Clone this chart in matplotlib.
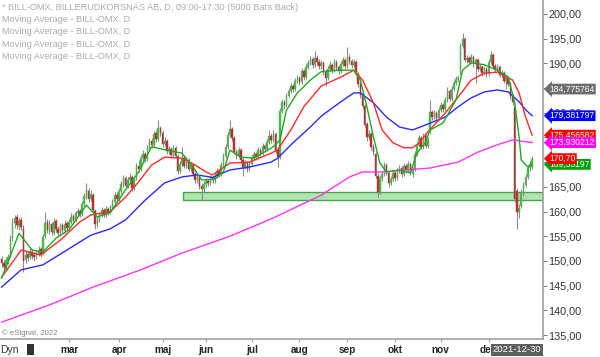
import numpy as np
import pandas as pd
import matplotlib
matplotlib.use("Agg")
from matplotlib import pyplot as plt
from matplotlib import transforms
from matplotlib.patches import Rectangle

plt.rcParams['font.family'] = ['Liberation Sans', 'DejaVu Sans']

# trading days shown (Stockholm exchange, holidays removed)
holidays = ['2021-04-02', '2021-04-05', '2021-05-13', '2021-06-25', '2021-12-24']
month_names = ['jan', 'feb', 'mar', 'apr', 'maj', 'jun', 'jul', 'aug', 'sep', 'okt', 'nov', 'dec']

opens = [
    150.4, 149.6, 148.6, 150.0, 151.0, 154.6, 157.6, 158.8, 157.0, 158.2,
    156.4, 150.2, 151.4, 150.8, 151.8, 151.2, 150.8, 151.4, 152.4, 151.6,
    155.0, 157.8, 156.0, 157.4, 155.6, 158.0, 156.4, 155.8, 157.2, 156.0,
    157.6, 156.6, 157.8, 159.0, 158.2, 159.6, 160.2, 159.4, 161.6, 163.0,
    164.2, 162.6, 163.4, 160.2, 157.4, 158.4, 159.2, 160.4, 159.2, 160.6,
    159.8, 160.8, 162.0, 163.4, 162.6, 164.2, 165.6, 166.8, 165.2, 166.4,
    167.0, 164.8, 166.8, 169.2, 168.6, 170.8, 171.6, 170.6, 172.8, 174.2,
    173.4, 175.8, 174.6, 176.8, 175.8, 173.6, 174.2, 172.2, 172.6, 171.4,
    172.8, 171.2, 168.2, 169.6, 170.8, 169.2, 170.4, 168.6, 169.4, 167.6,
    166.4, 166.9, 165.2, 164.6, 165.6, 166.2, 165.8, 166.8, 166.3, 167.2,
    168.2, 167.6, 169.4, 171.2, 173.0, 175.4, 176.6, 174.8, 172.0, 171.2,
    172.4, 170.4, 169.0, 169.8, 168.6, 169.6, 170.8, 171.6, 171.0, 172.4,
    171.8, 173.2, 172.6, 174.0, 175.2, 174.4, 175.6, 172.4, 171.0, 180.4,
    182.2, 181.6, 183.4, 184.4, 185.4, 184.8, 186.4, 187.0, 186.2, 188.4,
    187.2, 189.2, 190.0, 190.8, 189.6, 191.0, 190.2, 189.4, 190.0, 188.2,
    187.0, 188.8, 189.6, 188.6, 190.2, 189.2, 188.4, 189.8, 190.6, 189.4,
    191.2, 190.4, 189.6, 190.2, 187.8, 185.8, 183.6, 181.4, 177.8, 175.0,
    175.6, 173.0, 171.6, 167.2, 164.0, 166.8, 167.6, 169.4, 167.8, 165.8,
    166.6, 167.8, 166.8, 168.2, 168.8, 167.6, 169.2, 168.4, 169.6, 167.6,
    168.6, 171.6, 173.4, 174.8, 173.0, 175.2, 173.2, 176.0, 180.2, 179.2,
    180.0, 179.0, 180.6, 181.6, 180.8, 182.6, 184.4, 182.8, 184.8, 186.0,
    186.8, 188.0, 193.4, 195.0, 190.6, 191.0, 190.2, 191.2, 189.8, 190.6,
    188.8, 189.2, 188.0, 188.8, 187.8, 190.2, 191.6, 189.4, 188.6, 189.2,
    187.6, 188.0, 186.4, 187.0, 185.8, 183.4, 181.2, 164.2, 159.8, 161.2,
    163.8, 165.4, 167.0, 168.8, 169.0]
highs = [
    151.0, 150.2, 150.8, 151.4, 155.2, 158.6, 159.2, 159.4, 158.6, 158.8,
    157.2, 152.0, 152.0, 152.6, 152.4, 151.8, 152.2, 153.0, 152.8, 155.4,
    160.0, 158.4, 158.2, 157.8, 158.6, 158.4, 157.0, 157.6, 157.6, 158.2,
    158.0, 158.4, 159.6, 159.4, 160.2, 160.8, 160.6, 162.2, 163.8, 165.8,
    164.8, 164.4, 163.8, 160.6, 159.0, 159.8, 161.0, 160.8, 161.2, 161.0,
    161.4, 162.6, 164.0, 164.0, 164.8, 166.2, 167.4, 167.2, 167.0, 167.8,
    167.4, 167.2, 169.8, 170.4, 171.4, 172.4, 172.0, 173.4, 174.8, 174.8,
    176.2, 176.4, 178.5, 177.4, 176.4, 175.0, 174.6, 173.2, 173.0, 173.4,
    173.2, 171.6, 170.2, 173.0, 171.4, 171.0, 170.8, 170.0, 169.8, 168.0,
    167.6, 167.2, 165.8, 166.2, 166.8, 166.6, 167.4, 167.2, 167.8, 168.8,
    168.6, 170.0, 171.8, 173.6, 176.0, 178.5, 177.2, 175.2, 172.6, 173.0,
    172.8, 170.8, 170.4, 170.2, 170.2, 171.4, 172.2, 172.0, 173.0, 172.8,
    173.8, 173.6, 174.6, 176.4, 175.8, 176.4, 176.0, 172.8, 181.0, 182.8,
    182.6, 184.0, 185.0, 186.0, 185.8, 187.0, 187.6, 187.4, 189.0, 188.8,
    189.8, 190.6, 191.4, 191.2, 192.4, 191.6, 190.8, 190.6, 190.4, 188.8,
    189.4, 190.4, 190.0, 190.8, 190.6, 189.6, 190.4, 191.2, 191.0, 193.3,
    191.8, 190.8, 190.8, 190.6, 188.2, 186.2, 184.6, 181.8, 178.2, 176.4,
    176.0, 173.6, 172.0, 167.8, 167.2, 168.2, 170.0, 169.8, 168.2, 167.2,
    168.4, 168.2, 168.8, 169.4, 169.2, 169.8, 169.6, 170.2, 170.0, 169.0,
    172.2, 174.0, 175.4, 175.2, 175.8, 175.6, 175.0, 182.6, 180.6, 180.6,
    180.4, 181.2, 182.2, 182.0, 183.2, 185.2, 184.8, 185.4, 186.6, 187.4,
    187.6, 194.0, 196.1, 195.4, 191.6, 191.4, 191.8, 191.6, 191.0, 191.0,
    189.8, 189.6, 189.4, 189.2, 190.8, 192.4, 192.0, 189.8, 189.8, 189.6,
    188.6, 188.4, 187.6, 187.4, 186.2, 183.8, 181.8, 164.8, 161.6, 164.6,
    166.0, 167.6, 169.4, 170.2, 171.2]
lows = [
    148.8, 147.8, 148.2, 149.4, 150.6, 154.0, 156.6, 156.4, 156.2, 156.2,
    147.8, 149.6, 150.0, 150.4, 150.4, 150.0, 150.4, 151.0, 150.8, 151.2,
    154.6, 155.6, 155.4, 155.2, 155.2, 155.8, 155.0, 155.4, 155.6, 155.6,
    156.0, 156.2, 157.4, 157.6, 157.8, 159.0, 158.8, 159.0, 161.0, 162.6,
    162.0, 162.2, 159.8, 156.4, 156.8, 157.8, 158.8, 158.8, 158.8, 159.2,
    159.4, 160.4, 161.6, 162.0, 162.2, 163.8, 165.0, 164.6, 164.8, 166.0,
    164.2, 164.4, 166.4, 168.0, 168.2, 170.2, 170.0, 170.2, 172.4, 172.8,
    173.0, 174.0, 174.2, 175.2, 173.0, 173.2, 171.6, 171.6, 170.8, 171.0,
    170.8, 167.6, 167.8, 169.2, 168.8, 168.8, 168.2, 168.2, 167.2, 165.8,
    165.8, 164.6, 162.4, 164.0, 165.0, 165.2, 165.4, 165.8, 165.8, 166.8,
    167.0, 167.2, 169.0, 170.8, 172.6, 175.0, 174.2, 171.6, 170.6, 170.8,
    169.8, 167.2, 168.6, 168.0, 168.2, 169.2, 170.4, 170.4, 170.6, 171.2,
    171.4, 172.0, 172.2, 173.6, 173.8, 174.0, 171.8, 169.0, 170.6, 180.0,
    180.8, 181.2, 183.0, 184.0, 184.2, 184.4, 186.0, 185.6, 185.8, 186.6,
    186.8, 188.8, 189.6, 189.0, 189.2, 189.6, 188.8, 188.8, 187.6, 185.4,
    186.6, 188.4, 188.0, 188.2, 188.6, 187.8, 188.0, 189.4, 188.8, 189.0,
    189.8, 189.0, 189.2, 187.4, 185.2, 183.0, 180.8, 177.0, 174.2, 174.6,
    172.4, 171.4, 166.8, 163.0, 163.6, 166.2, 167.2, 167.4, 165.0, 165.4,
    166.2, 166.2, 166.4, 167.8, 167.0, 167.2, 167.8, 168.0, 167.4, 167.0,
    168.2, 171.2, 173.0, 172.6, 172.6, 172.8, 172.8, 175.6, 178.6, 178.8,
    178.4, 178.6, 180.2, 180.2, 180.4, 182.2, 182.4, 182.4, 184.4, 185.6,
    186.2, 187.6, 193.0, 190.2, 190.0, 189.6, 189.8, 189.2, 186.0, 188.4,
    188.4, 187.4, 187.6, 187.2, 187.4, 189.8, 189.0, 188.2, 188.2, 187.2,
    187.2, 186.0, 184.8, 185.4, 182.8, 181.6, 162.0, 156.4, 158.6, 160.8,
    163.2, 165.0, 166.6, 168.2, 168.6]
closes = [
    149.5, 148.8, 150.2, 150.8, 154.5, 157.8, 158.6, 157.2, 158.0, 156.8,
    150.0, 151.2, 150.6, 151.8, 151.0, 150.8, 151.6, 152.3, 151.5, 154.8,
    157.6, 156.2, 157.4, 155.8, 157.9, 156.4, 155.7, 157.0, 156.2, 157.5,
    156.6, 157.8, 158.9, 158.2, 159.6, 160.1, 159.4, 161.6, 163.2, 164.4,
    162.6, 163.6, 160.3, 157.4, 158.4, 159.2, 160.4, 159.3, 160.6, 159.7,
    160.9, 162.0, 163.4, 162.6, 164.2, 165.6, 166.8, 165.2, 166.4, 167.0,
    164.8, 166.6, 169.2, 168.6, 170.8, 171.6, 170.6, 172.8, 174.2, 173.4,
    175.6, 174.6, 176.8, 175.8, 173.6, 174.2, 172.2, 172.6, 171.4, 172.8,
    171.2, 168.2, 169.6, 170.8, 169.2, 170.4, 168.6, 169.4, 167.6, 166.4,
    166.9, 165.2, 164.6, 165.6, 166.2, 165.8, 166.8, 166.3, 167.2, 168.2,
    167.6, 169.4, 171.2, 173.0, 175.4, 176.6, 174.8, 172.0, 171.2, 172.4,
    170.4, 169.0, 169.8, 168.6, 169.6, 170.8, 171.6, 171.0, 172.4, 171.8,
    173.2, 172.6, 174.0, 175.2, 174.4, 175.6, 172.2, 171.0, 180.4, 182.2,
    181.6, 183.4, 184.4, 185.4, 184.8, 186.4, 187.0, 186.2, 188.4, 187.2,
    189.2, 190.0, 190.8, 189.6, 191.0, 190.2, 189.4, 190.0, 188.2, 187.0,
    188.8, 189.6, 188.6, 190.2, 189.2, 188.4, 189.8, 190.6, 189.4, 191.2,
    190.4, 189.6, 190.2, 187.8, 185.8, 183.6, 181.4, 177.6, 175.0, 175.6,
    173.0, 172.0, 167.2, 164.0, 166.8, 167.6, 169.4, 167.8, 165.8, 166.6,
    167.8, 166.8, 168.2, 168.8, 167.6, 169.2, 168.4, 169.6, 168.0, 168.6,
    171.6, 173.4, 174.8, 173.0, 175.2, 173.2, 174.4, 180.2, 179.2, 180.0,
    179.0, 180.6, 181.6, 180.8, 182.6, 184.4, 182.8, 184.8, 186.0, 186.8,
    187.0, 193.4, 195.0, 190.6, 191.0, 190.2, 191.2, 189.8, 190.6, 188.8,
    189.2, 188.0, 188.8, 187.8, 190.2, 191.6, 189.4, 188.6, 189.2, 187.6,
    188.0, 186.4, 187.0, 185.8, 183.4, 182.2, 162.6, 160.0, 160.8, 163.8,
    165.4, 167.0, 168.8, 169.6, 170.7]

green_idx = [0, 8, 14, 19, 25, 31, 39, 44, 50, 57, 63, 69, 75, 83, 88, 92, 98, 102, 105, 110,
             116, 125, 128, 131, 136, 142, 147, 156, 162, 165, 168, 171, 174, 177, 183, 188, 191,
             195, 197, 203, 209, 212, 216, 222, 228, 233, 236, 238, 239, 242, 244]
green_val = [146.5, 155.6, 152.2, 151.8, 154.6, 156.3, 161.3, 158.9, 159.8, 164.4, 168.0, 173.1,
             172.5, 171.8, 169.0, 166.4, 166.5, 168.0, 172.4, 171.0, 170.8, 173.1, 174.5, 180.5,
             184.0, 186.6, 188.3, 188.6, 188.6, 186.6, 181.2, 175.1, 169.8, 168.0, 168.4, 167.8,
             171.8, 174.0, 176.5, 177.9, 182.6, 188.6, 190.1, 189.7, 188.6, 187.2, 182.0, 175.1,
             170.4, 169.0, 169.53]
red_idx = [0, 9, 18, 27, 36, 41, 50, 57, 63, 69, 75, 83, 89, 94, 97, 105, 114, 124, 127, 133,
           139, 147, 156, 162, 166, 171, 175, 180, 185, 189, 192, 196, 204, 210, 216, 222, 228,
           235, 238, 241, 244]
red_val = [146.7, 152.2, 151.2, 154.2, 157.9, 159.3, 160.0, 162.9, 166.0, 169.4, 171.0, 170.8,
           169.4, 168.0, 167.4, 169.8, 170.0, 171.8, 172.5, 176.5, 181.2, 185.4, 187.2, 188.6,
           186.6, 182.0, 176.5, 173.9, 172.9, 172.9, 173.9, 176.1, 179.9, 183.2, 186.6, 188.0,
           188.2, 186.6, 184.0, 179.1, 175.46]
blue_idx = [0, 9, 19, 30, 41, 50, 57, 66, 75, 83, 90, 97, 105, 114, 124, 127, 134, 142, 147, 156,
            162, 165, 171, 177, 183, 189, 196, 204, 210, 216, 222, 228, 233, 238, 241, 244]
blue_val = [144.7, 148.2, 149.2, 152.2, 155.2, 156.5, 158.3, 162.3, 165.8, 167.0, 167.4, 166.9,
            168.4, 169.0, 170.0, 170.8, 173.9, 177.1, 179.3, 182.2, 184.0, 184.0, 182.0, 179.1,
            177.1, 176.5, 177.7, 179.1, 181.2, 183.0, 184.2, 184.6, 184.2, 182.2, 180.6, 179.38]
magenta_idx = [0, 22, 42, 64, 83, 105, 124, 147, 160, 166, 175, 197, 210, 219, 228, 235, 244]
magenta_val = [137.6, 141.1, 144.7, 148.2, 151.6, 155.0, 158.5, 163.3, 167.0, 168.0, 168.0,
               168.8, 170.0, 172.0, 173.5, 174.5, 173.93]

support_low, support_high, support_start = 162.3, 164.0, 83.4

tags = [("184,775764", 184.775764, '#6e6e6e'),
        ("179,381797", 179.381797, '#0000ff'),
        ("175,456582", 175.456582, '#ff0000'),
        ("173,930212", 173.930212, '#ff00ff'),
        ("169,53197", 169.53197, '#00a000'),
        ("170,70", 170.70, '#ff0000')]

dates = pd.bdate_range('2021-01-15', '2021-12-30')
dates = dates[~dates.isin(pd.to_datetime(holidays))][:len(closes)]
x = np.arange(len(closes))
o = np.array(opens)
c = np.array(closes)

fig = plt.figure(figsize=(6, 3.57), dpi=100)
ax = fig.add_axes([0, 18 / 357, 543 / 600, 339 / 357])

ax.add_patch(Rectangle((support_start, support_low), 300, support_high - support_low,
                       facecolor='#b2e2b2', edgecolor='#3cac3c', lw=1, zorder=1))

ax.vlines(x, lows, highs, color='#8c8c8c', lw=0.8, zorder=2)
up = c >= o
body_lo = np.minimum(o, c)
body_h = np.maximum(np.abs(c - o), 0.15)
ax.bar(x[up], body_h[up], bottom=body_lo[up], width=0.7, color='#33cc33',
       edgecolor='#7a9a7a', lw=0.3, zorder=2.2)
ax.bar(x[~up], body_h[~up], bottom=body_lo[~up], width=0.7, color='#d42a2a',
       edgecolor='#8a3a3a', lw=0.3, zorder=2.2)

ax.plot(magenta_idx, magenta_val, color='#ff33ff', lw=1, zorder=3)
ax.plot(blue_idx, blue_val, color='#2a2aff', lw=1, zorder=3)
ax.plot(red_idx, red_val, color='#ff2a2a', lw=1, zorder=3)
ax.plot(green_idx, green_val, color='#1faa1f', lw=1, zorder=3)

ax.set_xlim(-0.74, 249.0)
ax.set_ylim(134.2, 202.8)

for s in ['left', 'top']:
    ax.spines[s].set_visible(False)
for s in ['right', 'bottom']:
    ax.spines[s].set_color('#a0a0a0')
    ax.spines[s].set_linewidth(1.2)

ax.yaxis.tick_right()
yt = np.arange(135, 201, 5)
ax.set_yticks(yt)
ax.set_yticklabels([f"{v:.2f}".replace('.', ',') for v in yt])
ax.tick_params(axis='y', length=3, color='#808080', labelsize=7.8, labelcolor='#333333', pad=1)

# month starts; february sits under the Dyn button and is not labelled
month_pos = [i for i in range(1, len(dates))
             if dates[i].month != dates[i - 1].month and i > 20]
ax.set_xticks(month_pos)
ax.set_xticklabels([month_names[dates[i].month - 1] for i in month_pos],
                   fontweight='bold', fontsize=7.2, color='#222222')
ax.tick_params(axis='x', length=2, color='#a0a0a0', pad=2)

tr = transforms.blended_transform_factory(ax.transAxes, ax.transData)
for txt, val, col in tags:
    ax.text(1.012, val, txt, transform=tr, ha='left', va='center', fontsize=6.2,
            color='white', clip_on=False, zorder=5,
            bbox=dict(boxstyle='larrow,pad=0.1', facecolor=col, edgecolor='none'))

header = ["* BILL-OMX, BILLERUDKORSNÄS AB, D, 09:00-17:30 (5000 Bars Back)",
          "Moving Average - BILL-OMX, D", "Moving Average - BILL-OMX, D",
          "Moving Average - BILL-OMX, D", "Moving Average - BILL-OMX, D"]
for k, line in enumerate(header):
    fig.text(2 / 600, 1 - (7.5 + 12.2 * k) / 357, line, fontsize=6.6, color='#ababab',
             va='center', ha='left')

fig.text(2 / 600, 1 - 333 / 357, "© eSignal, 2022", fontsize=5.6, color='#808080',
         va='center', ha='left')
fig.text(0, 1 - 350 / 357, "Dyn", fontsize=7.5, color='#333333', va='center', ha='left')
fig.patches.append(Rectangle((27 / 600, 1 - 355 / 357), 7 / 600, 11 / 357,
                             transform=fig.transFigure, facecolor='#333333', edgecolor='none'))
fig.text(517 / 600, 1 - 350 / 357, "2021-12-30", fontsize=6.8, color='white',
         va='center', ha='center',
         bbox=dict(boxstyle='square,pad=0.15', facecolor='#5e5e5e', edgecolor='none'))

fig.savefig("out.png", dpi=100)
